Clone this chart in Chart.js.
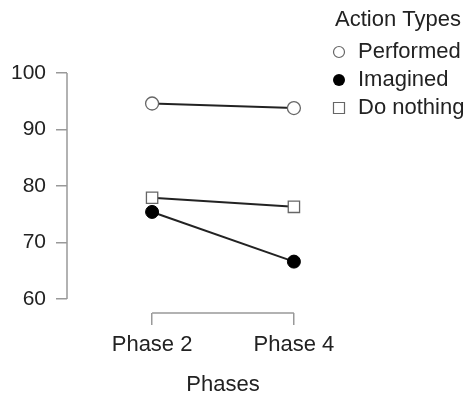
<!DOCTYPE html>
<html>
<head>
<meta charset="utf-8">
<script src="https://cdn.jsdelivr.net/npm/chart.js@4"></script>
<style>
  html, body { margin: 0; padding: 0; background: #fff; }
  #wrap { width: 467px; height: 395px; }
</style>
</head>
<body>
<div id="wrap"><canvas id="chart"></canvas></div>
<script>
const phases = ['Phase 2', 'Phase 4'];
const seriesNames = ['Performed', 'Imagined', 'Do nothing'];
const performed = [94.6, 93.8];
const imagined = [75.4, 66.6];
const doNothing = [77.9, 76.3];
const yTicks = [60, 70, 80, 90, 100];

const FONT = "'Liberation Sans', Arial, sans-serif";
const textColor = '#222';
const axisColor = '#999';

function toPoints(vals) {
  return vals.map((v, i) => ({ x: i + 1, y: v }));
}

// R style axes: y line only between first and last tick, x bracket between phases
const rAxes = {
  id: 'rAxes',
  afterDraw(chart) {
    const ctx = chart.ctx;
    const x = chart.scales.x, y = chart.scales.y;
    const area = chart.chartArea;
    ctx.save();
    ctx.strokeStyle = axisColor;
    ctx.lineWidth = 1.5;
    ctx.beginPath();
    ctx.moveTo(area.left, y.getPixelForValue(yTicks[0]));
    ctx.lineTo(area.left, y.getPixelForValue(yTicks[yTicks.length - 1]));
    ctx.moveTo(x.getPixelForValue(1), area.bottom);
    ctx.lineTo(x.getPixelForValue(phases.length), area.bottom);
    ctx.stroke();

    // legend
    const lx = 339, tx = 358;
    ctx.fillStyle = textColor;
    ctx.font = '22px ' + FONT;
    ctx.textBaseline = 'middle';
    ctx.textAlign = 'left';
    ctx.fillText('Action Types', 335, 20);
    const rows = [52, 80, 108];
    seriesNames.forEach((name, i) => {
      const yy = rows[i];
      ctx.fillStyle = textColor;
      ctx.fillText(name, tx, yy);
      ctx.lineWidth = 1.2;
      ctx.strokeStyle = '#666';
      ctx.beginPath();
      if (i === 0) {
        ctx.arc(lx, yy, 5.5, 0, Math.PI * 2);
        ctx.fillStyle = '#fff'; ctx.fill(); ctx.stroke();
      } else if (i === 1) {
        ctx.arc(lx, yy, 6, 0, Math.PI * 2);
        ctx.fillStyle = '#000'; ctx.fill();
      } else {
        ctx.rect(lx - 5.5, yy - 5.5, 11, 11);
        ctx.fillStyle = '#fff'; ctx.fill(); ctx.stroke();
      }
    });
    ctx.restore();
  }
};

const ctx = document.getElementById('chart').getContext('2d');
const chart = new Chart(ctx, {
  type: 'line',
  data: {
    datasets: [
      {
        label: seriesNames[0],
        data: toPoints(performed),
        borderColor: '#222',
        borderWidth: 2,
        pointStyle: 'circle',
        pointRadius: 6.5,
        pointBackgroundColor: '#fff',
        pointBorderColor: '#666',
        pointBorderWidth: 1.3
      },
      {
        label: seriesNames[1],
        data: toPoints(imagined),
        borderColor: '#222',
        borderWidth: 2,
        pointStyle: 'circle',
        pointRadius: 6.5,
        pointBackgroundColor: '#000',
        pointBorderColor: '#000',
        pointBorderWidth: 1
      },
      {
        label: seriesNames[2],
        data: toPoints(doNothing),
        borderColor: '#222',
        borderWidth: 2,
        pointStyle: 'rect',
        pointRadius: 8,
        pointBackgroundColor: '#fff',
        pointBorderColor: '#666',
        pointBorderWidth: 1.3
      }
    ]
  },
  options: {
    responsive: true,
    maintainAspectRatio: false,
    animation: false,
    layout: { padding: { top: 64, right: 88, left: 0, bottom: 0 } },
    plugins: {
      legend: { display: false },
      tooltip: { enabled: false }
    },
    scales: {
      x: {
        type: 'linear',
        min: 0.4,
        max: 2.6,
        afterBuildTicks: s => { s.ticks = phases.map((p, i) => ({ value: i + 1 })); },
        afterFit: s => { s.height = 82; },
        border: { display: false },
        grid: { drawOnChartArea: false, drawTicks: true, tickLength: 12, color: axisColor, lineWidth: 1.5 },
        ticks: {
          callback: v => phases[v - 1],
          color: textColor,
          font: { family: FONT, size: 22 },
          padding: 7,
          maxRotation: 0
        },
        title: {
          display: true,
          text: 'Phases',
          color: textColor,
          font: { family: FONT, size: 22 },
          padding: { top: 0, bottom: -3 }
        }
      },
      y: {
        min: 57.5,
        max: 101.6,
        afterBuildTicks: s => { s.ticks = yTicks.map(v => ({ value: v })); },
        afterFit: s => { s.width = 67; },
        border: { display: false },
        grid: { drawOnChartArea: false, drawTicks: true, tickLength: 11, color: axisColor, lineWidth: 1.5 },
        ticks: {
          color: textColor,
          font: { family: FONT, size: 21 },
          padding: 10
        }
      }
    }
  },
  plugins: [rAxes]
});
</script>
</body>
</html>
